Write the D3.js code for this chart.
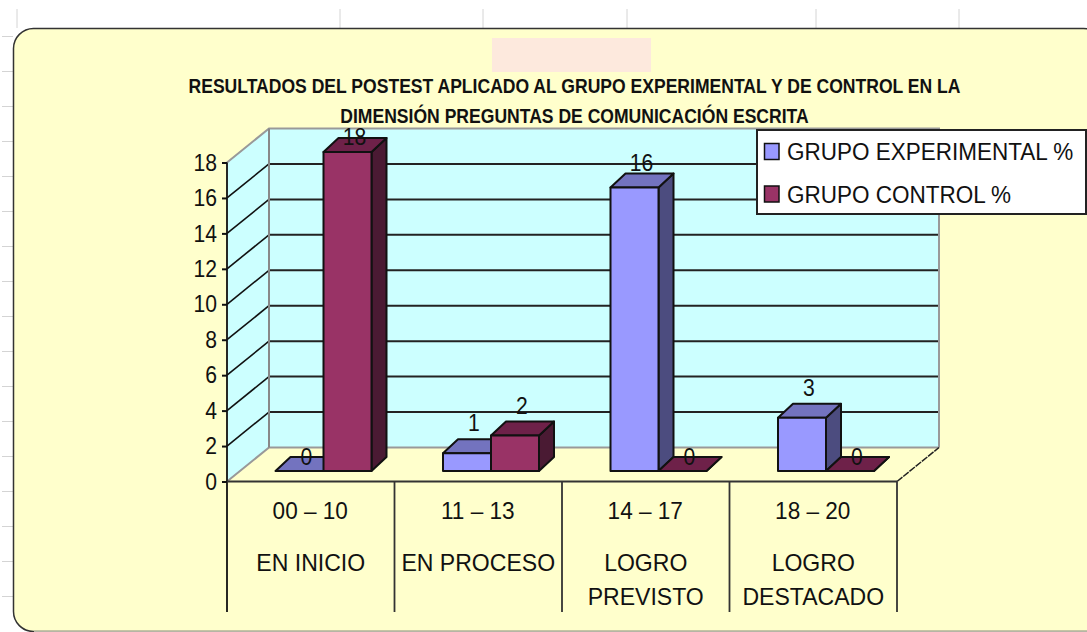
<!DOCTYPE html>
<html>
<head>
<meta charset="utf-8">
<script src="https://cdn.jsdelivr.net/npm/d3@7"></script>
<style>
  html, body { margin: 0; padding: 0; background: #fff; overflow: hidden; }
  svg { display: block; }
  text { font-family: "Liberation Sans", Arial, sans-serif; fill: #111; }
</style>
</head>
<body>
<div id="chart"></div>
<script>
const titleLines = [
  "RESULTADOS DEL POSTEST APLICADO AL GRUPO EXPERIMENTAL Y DE CONTROL EN LA",
  "DIMENSIÓN PREGUNTAS DE COMUNICACIÓN ESCRITA"
];
const ranges = ["00 – 10", "11 – 13", "14 – 17", "18 – 20"];
const levels = [["EN INICIO"], ["EN PROCESO"], ["LOGRO", "PREVISTO"], ["LOGRO", "DESTACADO"]];
const seriesNames = ["GRUPO EXPERIMENTAL %", "GRUPO CONTROL %"];
const experimental = [0, 1, 16, 3];
const control = [18, 2, 0, 0];
const yTicks = [0, 2, 4, 6, 8, 10, 12, 14, 16, 18];
const sheetColumns = [17, 340, 483, 627, 816, 959];

const palette = {
  [seriesNames[0]]: { front: "#9999ff", top: "#7373bf", side: "#4c4c7f" },
  [seriesNames[1]]: { front: "#993366", top: "#6e2149", side: "#4a1a33" }
};

const svg = d3.select("#chart").append("svg").attr("width", 1087).attr("height", 632);

// condensed look of the original text
function squeeze(sel, k) {
  sel.each(function () {
    d3.select(this)
      .attr("textLength", this.getComputedTextLength() * k)
      .attr("lengthAdjust", "spacingAndGlyphs");
  });
}

// worksheet behind the chart
svg.selectAll(".sheet-col").data(sheetColumns).enter().append("line")
  .attr("x1", d => d).attr("x2", d => d).attr("y1", 9).attr("y2", 28)
  .attr("stroke", "#d4d4d4").attr("stroke-width", 1);
svg.selectAll(".sheet-row").data(d3.range(36.5, 600, 35)).enter().append("line")
  .attr("x1", 2).attr("x2", 13).attr("y1", d => d).attr("y2", d => d)
  .attr("stroke", "#d4d4d4").attr("stroke-width", 1);

svg.append("rect")
  .attr("x", 13.5).attr("y", 28.5).attr("width", 1090).attr("height", 603)
  .attr("rx", 20).attr("ry", 20)
  .attr("fill", "#ffffcc").attr("stroke", "#333").attr("stroke-width", 1.5);
svg.append("line").attr("x1", 34).attr("x2", 1087).attr("y1", 631.5).attr("y2", 631.5)
  .attr("stroke", "#b5b5a5").attr("stroke-width", 1.5);

svg.append("rect").attr("x", 492).attr("y", 38).attr("width", 159).attr("height", 34)
  .attr("fill", "#fde9dd");

svg.selectAll(".title").data(titleLines).enter().append("text")
  .attr("class", "title")
  .attr("x", 574.5)
  .attr("y", (d, i) => 93 + i * 29.5)
  .attr("text-anchor", "middle")
  .style("font-size", "19.5px").style("font-weight", "bold")
  .text(d => d)
  .call(squeeze, 0.9);

// scales
const x0 = d3.scaleBand().domain(ranges).range([227, 897]);
const xInner = d3.scaleBand().domain(seriesNames).range([48, 144]);
const yFront = d3.scaleLinear().domain([0, 18]).range([481.5, 162.5]);
const wall = { dx: 42, dy: -34 };
const barDepth = { dx: 15, dy: -14 };
const barBase = 10.5;

const xLeft = x0.range()[0], xRight = x0.range()[1];
const y0 = yFront(0), yTop = yFront(18);

// back wall and side wall
svg.append("rect")
  .attr("x", xLeft + wall.dx).attr("y", yTop + wall.dy)
  .attr("width", xRight - xLeft).attr("height", y0 - yTop)
  .attr("fill", "#ccffff");
svg.append("path")
  .attr("d", d3.line()([[xLeft, y0], [xLeft + wall.dx, y0 + wall.dy], [xLeft + wall.dx, yTop + wall.dy], [xLeft, yTop]]))
  .attr("fill", "#ccffff");

// gridlines
const gridTicks = yTicks.slice(1, -1);
svg.selectAll(".grid-back").data(gridTicks).enter().append("line")
  .attr("x1", xLeft + wall.dx).attr("x2", xRight + wall.dx)
  .attr("y1", d => yFront(d) + wall.dy).attr("y2", d => yFront(d) + wall.dy)
  .attr("stroke", "#222").attr("stroke-width", 2);
svg.selectAll(".grid-side").data(gridTicks).enter().append("line")
  .attr("x1", xLeft).attr("x2", xLeft + wall.dx)
  .attr("y1", d => yFront(d)).attr("y2", d => yFront(d) + wall.dy)
  .attr("stroke", "#111").attr("stroke-width", 1.6);

// wall edges
const edges = d3.line();
svg.append("path")
  .attr("d", edges([[xLeft, y0], [xLeft + wall.dx, y0 + wall.dy], [xRight + wall.dx, y0 + wall.dy]]))
  .attr("fill", "none").attr("stroke", "#999").attr("stroke-width", 2);
svg.append("path")
  .attr("d", edges([[xLeft, yTop], [xLeft + wall.dx, yTop + wall.dy], [xRight + wall.dx, yTop + wall.dy], [xRight + wall.dx, y0 + wall.dy]]))
  .attr("fill", "none").attr("stroke", "#999").attr("stroke-width", 2);
svg.append("line")
  .attr("x1", xLeft + wall.dx).attr("x2", xLeft + wall.dx)
  .attr("y1", yTop + wall.dy).attr("y2", y0 + wall.dy)
  .attr("stroke", "#888").attr("stroke-width", 2);
svg.append("line")
  .attr("x1", xRight).attr("y1", y0).attr("x2", xRight + wall.dx).attr("y2", y0 + wall.dy)
  .attr("stroke", "#222").attr("stroke-width", 1.5).attr("stroke-dasharray", "7,1");

// bars
const barData = ranges.flatMap((r, i) => [
  { range: r, series: seriesNames[0], value: experimental[i] },
  { range: r, series: seriesNames[1], value: control[i] }
]);

const bars = svg.selectAll(".bar").data(barData).enter().append("g").attr("class", "bar");
const barBox = d => {
  const l = x0(d.range) + xInner(d.series) + 0.5;
  const r = l + xInner.bandwidth();
  const b = yFront(0) - barBase;
  const t = b - (yFront(0) - yFront(d.value));
  return { l, r, b, t };
};
const barStroke = sel => sel.attr("stroke", "#111").attr("stroke-width", 2).attr("stroke-linejoin", "round");

bars.append("path")
  .attr("d", d => {
    const q = barBox(d);
    return edges([[q.r, q.t], [q.r + barDepth.dx, q.t + barDepth.dy], [q.r + barDepth.dx, q.b + barDepth.dy], [q.r, q.b]]) + "Z";
  })
  .attr("fill", d => palette[d.series].side).call(barStroke);
bars.append("path")
  .attr("d", d => {
    const q = barBox(d);
    return edges([[q.l, q.t], [q.l + barDepth.dx, q.t + barDepth.dy], [q.r + barDepth.dx, q.t + barDepth.dy], [q.r, q.t]]) + "Z";
  })
  .attr("fill", d => palette[d.series].top).call(barStroke);
bars.append("rect")
  .attr("x", d => barBox(d).l).attr("y", d => barBox(d).t)
  .attr("width", xInner.bandwidth()).attr("height", d => barBox(d).b - barBox(d).t)
  .attr("fill", d => palette[d.series].front).call(barStroke);

// value labels sit lower near the plot top and on empty bars
const labelLift = v => v === 0 ? 0 : v === 18 ? 1 : v === 16 ? 10 : 16;
svg.selectAll(".value").data(barData).enter().append("text")
  .attr("x", d => barBox(d).l + xInner.bandwidth() / 2 + barDepth.dx / 2 - 0.5)
  .attr("y", d => barBox(d).t + barDepth.dy - labelLift(d.value) + 8)
  .attr("text-anchor", "middle")
  .style("font-size", "24px")
  .text(d => d.value)
  .call(squeeze, 0.88);

// y axis
const yAxis = d3.axisLeft(yFront).tickValues(yTicks).tickSize(5).tickPadding(5);
const yG = svg.append("g").attr("transform", `translate(${xLeft},0)`).call(yAxis);
yG.select(".domain").remove();
yG.selectAll("line").attr("stroke", "#111").attr("stroke-width", 2);
yG.selectAll("text")
  .style("font-size", "24px").style("font-family", null).attr("fill", null)
  .call(squeeze, 0.88);

svg.append("line")
  .attr("x1", xLeft).attr("x2", xLeft).attr("y1", yTop).attr("y2", 612)
  .attr("stroke", "#111").attr("stroke-width", 1.8);
svg.append("line")
  .attr("x1", xLeft).attr("x2", xRight).attr("y1", y0).attr("y2", y0)
  .attr("stroke", "#333").attr("stroke-width", 2);

// data table style category axis
svg.selectAll(".divider").data(ranges).enter().append("line")
  .attr("x1", d => x0(d) + x0.bandwidth()).attr("x2", d => x0(d) + x0.bandwidth())
  .attr("y1", y0).attr("y2", 612)
  .attr("stroke", "#333").attr("stroke-width", 1.8);

svg.selectAll(".range").data(ranges).enter().append("text")
  .attr("x", d => x0(d) + x0.bandwidth() / 2 - 0.5)
  .attr("y", 519)
  .attr("text-anchor", "middle")
  .style("font-size", "24px")
  .text(d => d)
  .call(squeeze, 0.94);

levels.forEach((lines, i) => {
  svg.selectAll(`.level-${i}`).data(lines).enter().append("text")
    .attr("x", x0(ranges[i]) + x0.bandwidth() / 2)
    .attr("y", (d, j) => 571 + j * 34)
    .attr("text-anchor", "middle")
    .style("font-size", "24px")
    .text(d => d)
    .call(squeeze, 0.96);
});

// legend
const legend = svg.append("g");
legend.append("rect")
  .attr("x", 757).attr("y", 130).attr("width", 329).attr("height", 84)
  .attr("fill", "#fff").attr("stroke", "#222").attr("stroke-width", 2);
const legendItems = legend.selectAll(".item").data(seriesNames).enter().append("g")
  .attr("transform", (d, i) => `translate(0,${151.5 + i * 42.5})`);
legendItems.append("rect")
  .attr("x", 764.5).attr("y", -8).attr("width", 14.5).attr("height", 16)
  .attr("fill", d => palette[d].front).attr("stroke", "#111").attr("stroke-width", 1.5);
legendItems.append("text")
  .attr("x", 787).attr("y", 8.5)
  .style("font-size", "23.5px")
  .text(d => d)
  .call(squeeze, 0.957);
</script>
</body>
</html>
